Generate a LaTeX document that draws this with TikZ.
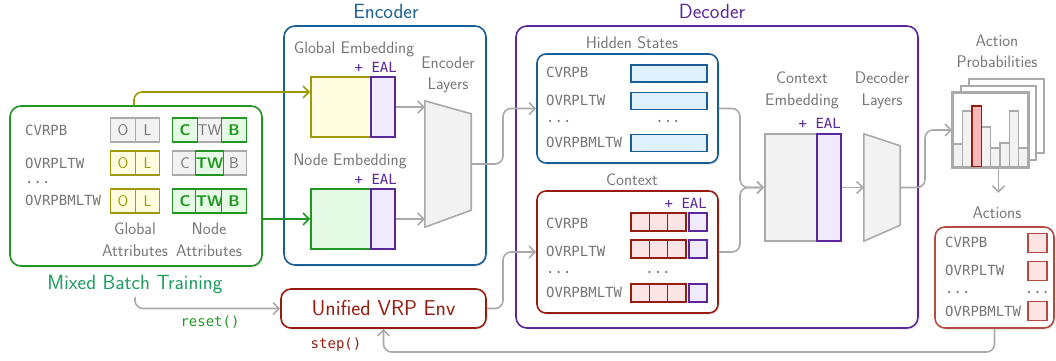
\documentclass[tikz,border=0pt]{standalone}
\usepackage{fontspec}
\setmonofont{DejaVu Sans Mono}
\usetikzlibrary{arrows.meta,shadows,calc}
\definecolor{cgreen}{RGB}{34,150,34}
\definecolor{cgreenfill}{RGB}{228,250,228}
\definecolor{cteal}{RGB}{30,155,95}
\definecolor{colive}{RGB}{158,152,10}
\definecolor{colivefill}{RGB}{255,253,224}
\definecolor{cblue}{RGB}{25,95,150}
\definecolor{cbluefill}{RGB}{222,240,252}
\definecolor{cpurple}{RGB}{90,40,155}
\definecolor{cpurplefill}{RGB}{241,233,252}
\definecolor{cred}{RGB}{150,28,15}
\definecolor{credfill}{RGB}{252,228,228}
\definecolor{cactred}{RGB}{180,75,65}
\definecolor{cbarred}{RGB}{248,184,184}
\definecolor{cgray}{RGB}{170,170,170}
\definecolor{cgraytext}{RGB}{118,118,118}
\definecolor{cgrayfill}{RGB}{242,242,242}
\newcommand\myLbl{\sffamily\fontsize{16.8}{21.5}\selectfont}
\newcommand\myMono{\ttfamily\fontsize{14}{16}\selectfont}
\newcommand\myCell{\sffamily\fontsize{15.5}{17}\selectfont}
\newcommand\myTitle{\sffamily\fontsize{20.5}{24}\selectfont}
\newcommand\myEnv{\sffamily\fontsize{21.5}{25}\selectfont}
\tikzset{
  bigbox/.style={draw, line width=1.6pt, fill=white, rounded corners=11pt, inner sep=0pt,
    drop shadow={shadow xshift=1.5pt,shadow yshift=-1.5pt,opacity=0.2}},
  lbl/.style={text=cgraytext, font=\myLbl, align=center, inner sep=0pt},
  title/.style={font=\myTitle, inner sep=0pt},
  mono/.style={text=cgraytext, font=\myMono, inner sep=0pt, anchor=west},
  monoc/.style={text=cgraytext, font=\myMono, inner sep=0pt},
  eal/.style={text=cpurple, font=\myMono, inner sep=0pt, anchor=east},
  cellbase/.style={draw, line width=1.2pt, minimum width=24.5pt, minimum height=24pt, inner sep=0pt, font=\myCell},
  gcell/.style={cellbase, draw=cgray, fill=cgrayfill, text=cgraytext},
  ocell/.style={cellbase, draw=colive, fill=colivefill, text=colive},
  ncell/.style={cellbase, draw=cgreen, fill=cgreenfill, text=cgreen, font=\myCell\bfseries},
  hbar/.style={draw=cblue, fill=cbluefill, line width=1.2pt, minimum width=76pt, minimum height=17pt, inner sep=0pt},
  rcell/.style={draw=cred, fill=credfill, line width=1.2pt, minimum width=18.3pt, minimum height=18pt, inner sep=0pt},
  pcell/.style={draw=cpurple, fill=cpurplefill, line width=1.2pt, minimum width=18pt, minimum height=18pt, inner sep=0pt},
  asq/.style={draw=cactred, fill=credfill, line width=1.2pt, minimum width=19pt, minimum height=19pt, inner sep=0pt},
  embbox/.style={line width=1.6pt, inner sep=0pt},
  trap/.style={draw=cgray, fill=cgrayfill, line width=1.6pt, line join=round},
  ghost/.style={inner sep=0pt},
  frame/.style={draw=cgray, fill=white, line width=1.6pt, minimum width=75pt, minimum height=74pt, inner sep=0pt},
  conn/.style={draw=cgray, line width=1.6pt, rounded corners=8pt},
  arr/.style={-{Straight Barb[length=6pt,width=12pt]}},
}
\begin{document}
\begin{tikzpicture}[x=1pt,y=-1pt]
\useasboundingbox (0,0) rectangle (1056,360);

% ---------------- Mixed batch training ----------------
\node[bigbox, draw=cgreen, minimum width=252pt, minimum height=160pt] (mixed) at (136,186) {};
\node[mono] (mr1) at (25,130) {CVRPB};
\node[mono] (mr2) at (25,163) {OVRPLTW};
\node[mono] (mr3) at (25,182) {...};
\node[mono] (mr4) at (25,200) {OVRPBMLTW};
% gray cells first
\node[gcell] (a1o) at (123,130) {O};
\node[gcell] (a1l) at (147.5,130) {L};
\node[gcell] (b1tw) at (209.5,130) {TW};
\node[gcell] (b2c) at (185,163) {C};
\node[gcell] (b2b) at (234,163) {B};
% coloured cells
\node[ocell] (a2o) at (123,163) {O};
\node[ocell] (a2l) at (147.5,163) {L};
\node[ocell] (a3o) at (123,201) {O};
\node[ocell] (a3l) at (147.5,201) {L};
\node[ncell] (b1c) at (185,130) {C};
\node[ncell] (b1b) at (234,130) {B};
\node[ncell] (b2tw) at (209.5,163) {TW};
\node[ncell] (b3c) at (185,201) {C};
\node[ncell] (b3tw) at (209.5,201) {TW};
\node[ncell] (b3b) at (234,201) {B};
\node[lbl] (glab) at (135,239.5) {Global\\Attributes};
\node[lbl] (nlab) at (209,239.5) {Node\\Attributes};
\node[title, text=cteal] (mbt) at (135,284) {Mixed Batch Training};

% ---------------- Encoder ----------------
\node[bigbox, draw=cblue, minimum width=202pt, minimum height=239pt] (encbox) at (385,145.5) {};
\node[title, text=cblue] (enct) at (386,11) {Encoder};
\node[lbl] (gel) at (354,49) {Global Embedding};
\node[eal] (geal) at (397,67) {+ EAL};
\node[embbox, draw=colive, fill=colivefill, minimum width=60pt, minimum height=60pt] (globe) at (341,107) {};
\node[embbox, draw=cpurple, fill=cpurplefill, minimum width=24pt, minimum height=60pt] (globeal) at (383,107) {};
\node[lbl] (nel) at (350,161) {Node Embedding};
\node[eal] (neal) at (397,179) {+ EAL};
\node[embbox, draw=cgreen, fill=cgreenfill, minimum width=60pt, minimum height=60pt] (nodee) at (341,219) {};
\node[embbox, draw=cpurple, fill=cpurplefill, minimum width=24pt, minimum height=60pt] (nodeeal) at (383,219) {};
\node[lbl] (encl) at (448,75) {Encoder\\Layers};
\node[ghost, minimum width=46pt, minimum height=126pt] (enc) at (448,164) {};
\draw[trap] (enc.north west) -- ($(enc.north east)+(0,13)$) -- ($(enc.south east)+(0,-17)$) -- (enc.south west) -- cycle;

% inputs to encoder
\draw[conn, draw=colive, arr] ($(mixed.north)+(-2,0)$) |- ($(globe.west)+(0,-15)$);
\draw[conn, draw=cgreen, arr] (mixed.east |- nodee.west) -- (nodee.west);
\draw[conn, arr] (globeal.east) -- (globeal.east -| enc.west);
\draw[conn, arr] (nodeeal.east) -- (nodeeal.east -| enc.west);

% ---------------- Decoder ----------------
\node[bigbox, draw=cpurple, minimum width=402pt, minimum height=302pt] (decbox) at (717,177) {};
\node[title, text=cpurple] (dect) at (712,11) {Decoder};
\node[lbl] (hsl) at (632,43) {Hidden States};
\node[bigbox, draw=cblue, rounded corners=9pt, minimum width=181pt, minimum height=109pt] (hidden) at (627.5,108.5) {};
\node[mono] (hr1) at (546,72.5) {CVRPB};
\node[mono] (hr2) at (546,100) {OVRPLTW};
\node[mono] (hr3) at (546,121.5) {...};
\node[mono] (hr4) at (546,142.5) {OVRPBMLTW};
\node[hbar] (hb1) at (669,73.5) {};
\node[hbar] (hb2) at (669,101) {};
\node[monoc] (hbd) at (668,121.5) {...};
\node[hbar] (hb3) at (669,143) {};

\node[lbl] (ctl) at (632,180) {Context};
\node[bigbox, draw=cred, rounded corners=9pt, minimum width=181pt, minimum height=122pt] (context) at (627.5,252) {};
\node[eal] (cteal) at (707,203) {+ EAL};
\node[mono] (cr1) at (546,223.5) {CVRPB};
\node[mono] (cr2) at (546,251.5) {OVRPLTW};
\node[mono] (cr3) at (546,272) {...};
\node[mono] (cr4) at (546,292.5) {OVRPBMLTW};
\foreach \r/\yy in {1/222,2/249,3/293}{
  \node[rcell] (c\r a) at (640.2,\yy) {};
  \node[rcell] (c\r b) at (658.5,\yy) {};
  \node[rcell] (c\r c) at (676.8,\yy) {};
  \node[pcell] (c\r p) at (698,\yy) {};
}
\node[monoc] (ctd) at (658,272) {...};

\node[lbl] (cel) at (802,90.5) {Context\\Embedding};
\node[eal] (ceal) at (841,123) {+ EAL};
\node[embbox, draw=cgray, fill=cgrayfill, minimum width=52pt, minimum height=107pt] (cemb) at (791,187.5) {};
\node[embbox, draw=cpurple, fill=cpurplefill, minimum width=24pt, minimum height=107pt] (cembal) at (829,187.5) {};
\node[lbl] (decl) at (882,90.5) {Decoder\\Layers};
\node[ghost, minimum width=36pt, minimum height=107pt] (dec) at (882,187.5) {};
\draw[trap] (dec.north west) -- ($(dec.north east)+(0,12)$) -- ($(dec.south east)+(0,-16)$) -- (dec.south west) -- cycle;

% ---------------- Env ----------------
\node[bigbox, draw=cred, rounded corners=10pt, minimum width=205pt, minimum height=39pt, font=\myEnv, text=cred] (env) at (383.5,308.5) {Unified VRP Env};
\node[font=\myMono, text=cgreen, inner sep=0pt] (reset) at (210,322) {reset()};
\node[font=\myMono, text=cred, inner sep=0pt] (step) at (336,345) {step()};

% ---------------- Action probabilities ----------------
\node[lbl] (apl) at (997,51) {Action\\Probabilities};
\node[ghost, minimum width=91pt, minimum height=88pt] (probs) at (998.5,123) {};
\node[frame] (pb3) at (1006.5,116) {};
\node[frame] (pb2) at (998.5,123) {};
\node[frame] (pb1) at (990.5,130) {};
\foreach \t [count=\i from 0] in {144,111,106,127,148,143,111,148}{
  \draw[draw=cgray, fill=cgrayfill, line width=1.4pt] (953.3+\i*9.34,\t) rectangle (953.3+\i*9.34+9.34,166.5);
}
\draw[draw=cred, fill=cbarred, line width=1.4pt] (971.98,106) rectangle (981.32,166.5);
\draw[draw=cgray, line width=1.6pt] (pb1.north west) rectangle (pb1.south east);

\node[lbl] (actl) at (997,213) {Actions};
\node[bigbox, draw=cactred, rounded corners=10pt, minimum width=119pt, minimum height=101pt] (actions) at (994.5,277.5) {};
\node[mono] (ar1) at (945,242.5) {CVRPB};
\node[mono] (ar2) at (945,270) {OVRPLTW};
\node[mono] (ar3) at (945,292) {...};
\node[mono] (ar4) at (945,311) {OVRPBMLTW};
\node[asq] (as1) at (1037.5,243) {};
\node[asq] (as2) at (1037.5,271) {};
\node[monoc] (asd) at (1037.5,292) {...};
\node[asq] (as3) at (1037.5,311) {};

% ---------------- connectors ----------------
\coordinate (j1) at (503,0);
\coordinate (j2) at (740,0);
\coordinate (j3) at (925,0);
\coordinate (botline) at (0,352);
\draw[conn, arr] (enc.east) -| (j1 |- hidden.west) -- (hidden.west);
\draw[conn, arr] (env.east) -| (j1 |- context.west) -- (context.west);
\draw[conn, arr] (hidden.east) -| (j2 |- cemb.west) -- (cemb.west);
\draw[conn, arr] (context.east) -| (j2 |- cemb.west) -- (cemb.west);
\draw[conn, arr] (cembal.east) -- (dec.west);
\draw[conn, arr] (dec.east) -| (j3 |- pb1.west) -- (pb1.west);
\draw[conn, arr, shorten >=14pt] (probs.south) -- (probs.south |- actl.north);
\draw[conn, arr, shorten <=4pt] (mbt.south) |- (env.west);
\draw[conn, arr] (actions.south) |- (env.south |- botline) -- (env.south);
\end{tikzpicture}
\end{document}
